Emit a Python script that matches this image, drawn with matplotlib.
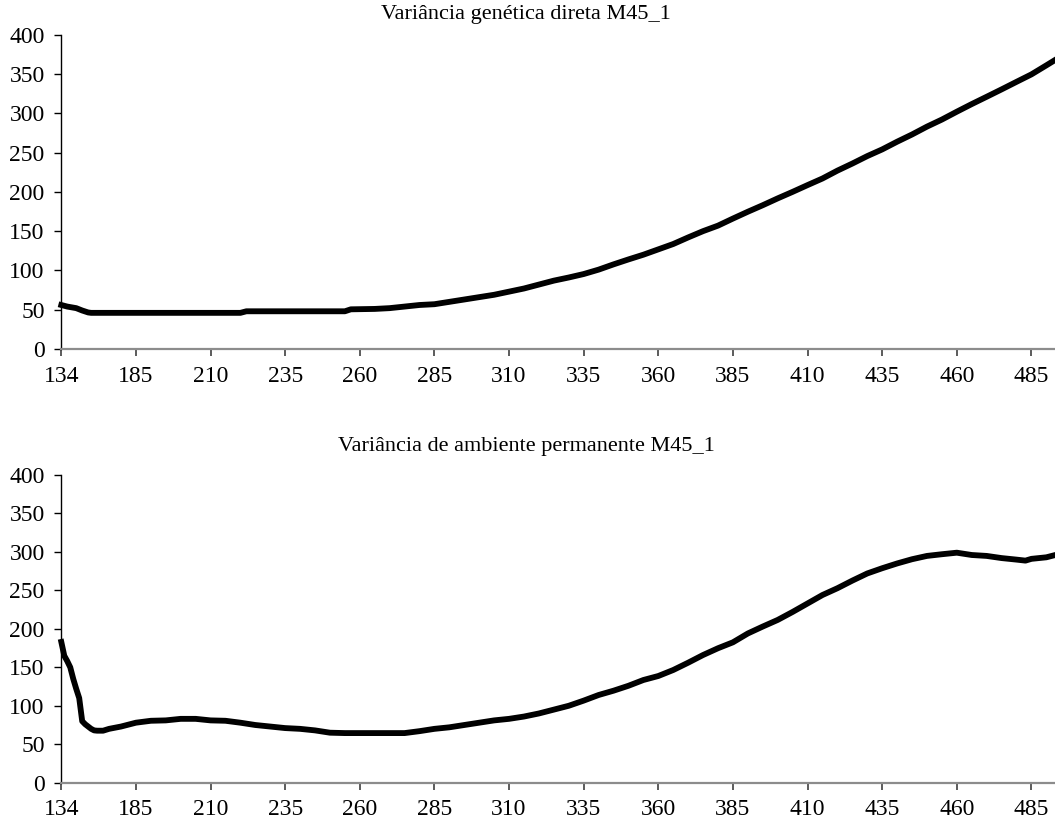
import matplotlib
matplotlib.use("Agg")
import matplotlib.pyplot as plt

# categories on the x axis: first record at day 134, then daily from 161
days = [134] + list(range(161, 494))

top_idx = [0, 2, 5, 7, 9, 10, 20, 30, 40, 50, 60, 62, 70, 80, 90, 95, 97, 105,
           110, 115, 120, 125, 130, 135, 140, 145, 150, 155, 160, 165, 170, 175,
           180, 185, 190, 195, 200, 205, 210, 215, 220, 225, 230, 235, 240, 245,
           250, 255, 260, 265, 270, 275, 280, 285, 290, 295, 300, 305, 310, 315,
           320, 325, 330, 333]
top_vals = [56, 54, 52, 49, 46.5, 46, 46, 46, 46, 46, 46, 48, 48, 48, 48, 48,
            50.5, 51, 52, 54, 56, 57, 60, 63, 66, 69, 73, 77, 82, 87, 91, 95.4,
            101, 107.7, 114, 120, 126.8, 133.6, 142, 150, 157, 166, 174.7, 183,
            191.7, 200, 208.6, 217, 227, 236, 245.5, 254, 263.8, 273, 283, 292,
            302, 311.7, 321, 330.4, 340, 349.5, 361, 368]

bot_idx = [0, 1, 2, 3, 4, 5, 6, 7, 8, 9, 10, 11, 12, 14, 16, 20, 25, 30, 35,
           40, 45, 50, 55, 60, 65, 70, 75, 80, 85, 90, 95, 105, 115, 120, 125,
           130, 135, 140, 145, 150, 155, 160, 165, 170, 175, 180, 185, 190, 195,
           200, 205, 210, 215, 220, 225, 230, 235, 240, 245, 250, 255, 260, 265,
           270, 275, 280, 285, 290, 295, 300, 305, 310, 315, 320, 323, 325, 330,
           333]
bot_vals = [183, 165, 158, 150, 135, 122, 110, 80, 76, 73, 70, 68, 67.6, 67.6,
            70, 73, 78, 80.5, 81, 83, 83, 81, 80.5, 78, 75, 73, 71, 70, 68, 65,
            64.5, 64.5, 64.5, 67, 70, 72, 75, 78, 81, 83, 86, 90, 95, 100, 106.7,
            114, 119.6, 126, 133.5, 138.7, 146.5, 156, 166, 174.8, 182.5, 194,
            203, 211.6, 222, 233, 244, 252.8, 262.7, 272, 278.8, 285, 290.5,
            294.8, 297, 299, 296, 294.8, 292, 290, 288.7, 291, 293, 296]

titles = ["Variância genética direta M45_1",
          "Variância de ambiente permanente M45_1"]
yticks = [0, 50, 100, 150, 200, 250, 300, 350, 400]
label_step = 25

plt.rcParams['font.family'] = ['Liberation Serif', 'DejaVu Serif']

W, H = 1055, 823
fig = plt.figure(figsize=(W / 100, H / 100), dpi=100)

x0 = 61.3
px_per_cat = 2.985
xmax = (W - x0) / px_per_cat

# (pixel row of y=0, pixel row of y=400, title centre row)
panels = [(349.0, 34.7, 14), (782.7, 475.0, 446)]
series = [(top_idx, top_vals), (bot_idx, bot_vals)]

for (ybot, ytop, ty), (idx, vals), title in zip(panels, series, titles):
    ax = fig.add_axes([x0 / W, 1 - ybot / H, (W - x0) / W, (ybot - ytop) / H])
    ax.plot(idx, vals, color='black', lw=4.2, solid_joinstyle='round',
            clip_on=False)
    ax.set_xlim(0, xmax)
    ax.set_ylim(0, 400)
    ax.set_yticks(yticks)
    pos = list(range(0, len(days), label_step))
    ax.set_xticks(pos)
    ax.set_xticklabels([str(days[p]) for p in pos])
    for s in ['top', 'right']:
        ax.spines[s].set_visible(False)
    ax.spines['left'].set_color('black')
    ax.spines['left'].set_linewidth(1.0)
    ax.spines['bottom'].set_color('#8c8c8c')
    ax.spines['bottom'].set_linewidth(1.6)
    ax.tick_params(axis='y', direction='out', length=5, width=1,
                   color='black', pad=7, labelsize=17)
    ax.tick_params(axis='x', direction='out', length=5, width=1.2,
                   color='#404040', pad=7, labelsize=17)
    fig.text(526 / W, 1 - ty / H, title, ha='center', va='center',
             fontsize=16)

fig.savefig('out.png', dpi=100)
